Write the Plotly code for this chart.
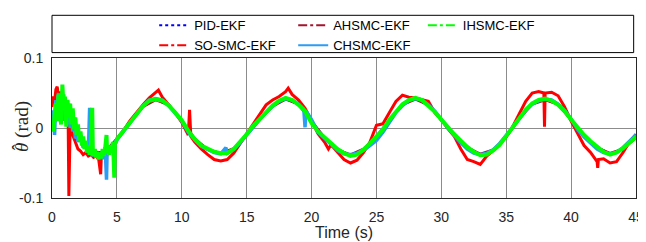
import plotly.graph_objects as go

# ---------------- data ----------------
t_ih = [0.0, 0.1, 0.2, 0.3, 0.4, 0.5, 0.6, 0.7, 0.8, 0.9, 1.0, 1.1, 1.2, 1.3, 1.4, 1.5,
        1.6, 1.7, 1.8, 1.9, 2.0, 2.1, 2.2, 2.3, 2.4, 2.5, 2.6, 2.7, 2.8, 2.9, 3.0, 3.1,
        3.15, 3.2, 3.3, 3.4, 3.5, 3.6, 3.7, 3.8, 3.9, 4.0, 4.1, 4.2, 4.25, 4.3, 4.4, 4.5,
        4.6, 4.7, 4.8, 4.85, 4.9,
        5.0, 5.5, 6.0, 6.5, 7.0, 7.5, 8.0, 8.5, 9.0, 9.5, 10.0, 10.5, 11.0, 11.5, 12.0,
        12.5, 13.0, 13.5, 14.0, 14.5, 15.0, 15.5, 16.0, 16.5, 17.0, 17.5, 18.0, 18.5,
        19.0, 19.5, 20.0, 20.5, 21.0, 21.5, 22.0, 22.5, 23.0, 23.5, 24.0, 24.5, 25.0,
        25.5, 26.0, 26.5, 27.0, 27.5, 28.0, 28.5, 29.0, 29.5, 30.0, 30.5, 31.0, 31.5,
        32.0, 32.5, 33.0, 33.5, 34.0, 34.5, 35.0, 35.5, 36.0, 36.5, 37.0, 37.5, 38.0,
        38.5, 39.0, 39.5, 40.0, 40.5, 41.0, 41.5, 42.0, 42.5, 43.0, 43.5, 44.0, 44.5, 45.0]
y_ih = [0.005, -0.005, 0.020, 0.035, 0.010, 0.048, 0.030, 0.005, 0.062, 0.025, 0.045, 0.002,
        0.040, 0.015, 0.035, 0.005, 0.028, -0.002, 0.015, -0.010, 0.005, -0.018, -0.005,
        -0.025, -0.012, -0.030, -0.018, -0.035, -0.025, -0.038, -0.028, 0.029, -0.035,
        -0.040, -0.030, -0.042, -0.034, -0.045, -0.035, -0.043, -0.030, -0.040, -0.028,
        -0.010, -0.036, -0.030, -0.038, -0.025, -0.030, -0.020, -0.071, -0.020, -0.022,
        -0.016, -0.004, 0.009, 0.021, 0.031, 0.039, 0.041, 0.039, 0.032, 0.022, 0.011,
        -0.004, -0.016, -0.025, -0.030, -0.034, -0.036, -0.036, -0.030, -0.020, -0.009,
        0.003, 0.013, 0.023, 0.032, 0.039, 0.043, 0.040, 0.033, 0.024, 0.007, -0.005,
        -0.013, -0.022, -0.030, -0.036, -0.040, -0.038, -0.031, -0.022, -0.012, -0.002,
        0.012, 0.024, 0.034, 0.040, 0.043, 0.040, 0.032, 0.023, 0.012, 0.001, -0.009,
        -0.018, -0.027, -0.034, -0.039, -0.038, -0.032, -0.024, -0.012, 0.000, 0.014,
        0.026, 0.035, 0.040, 0.042, 0.039, 0.033, 0.024, 0.012, 0.000, -0.010, -0.019,
        -0.027, -0.034, -0.038, -0.035, -0.029, -0.021, -0.013]

t_so = [0.0, 0.1, 0.2, 0.3, 0.4, 0.5, 0.6, 0.7, 0.8, 0.9, 1.0, 1.1, 1.2, 1.25, 1.3, 1.35,
        1.4, 1.5, 1.6, 1.7, 1.8, 1.9, 2.0, 2.2, 2.4, 2.6, 2.8, 3.0, 3.2, 3.4, 3.6, 3.75,
        3.8, 4.0, 4.2, 4.5, 4.8,
        5.0, 5.5, 6.0, 6.5, 7.0, 7.5, 8.0, 8.2, 8.5, 9.0, 9.5, 10.0, 10.5, 10.6, 10.7,
        11.0, 11.5, 12.0, 12.5, 13.0, 13.5, 14.0, 14.5, 15.0, 15.5, 16.0, 16.5, 17.0,
        17.5, 18.0, 18.2, 18.5, 19.0, 19.5, 20.0, 20.5, 21.0, 21.3, 21.5, 22.0, 22.5,
        23.0, 23.5, 24.0, 24.5, 25.0, 25.5, 26.0, 26.5, 27.0, 27.5, 28.0, 28.5, 29.0,
        29.5, 30.0, 30.5, 31.0, 31.5, 32.0, 32.5, 33.0, 33.5, 34.0, 34.5, 35.0, 35.5,
        36.0, 36.5, 37.0, 37.5, 37.9, 37.95, 38.0, 38.5, 39.0, 39.5, 40.0, 40.5, 41.0,
        41.5, 42.0, 42.05, 42.1, 42.5, 43.0, 43.5, 44.0, 44.5, 45.0]
y_so = [0.030, 0.045, 0.038, 0.055, 0.059, 0.045, 0.052, 0.040, 0.048, 0.030, 0.038, 0.015,
        0.020, 0.000, -0.097, 0.000, 0.005, -0.005, -0.010, -0.015, -0.020, -0.025, -0.030,
        -0.033, -0.038, -0.035, -0.040, -0.038, -0.042, -0.040, -0.045, -0.066, -0.040,
        -0.035, -0.034, -0.028, -0.022,
        -0.015, -0.004, 0.010, 0.022, 0.033, 0.043, 0.050, 0.054, 0.044, 0.033, 0.022,
        0.008, -0.010, 0.026, -0.012, -0.020, -0.030, -0.038, -0.045, -0.047, -0.045,
        -0.036, -0.022, -0.008, 0.006, 0.020, 0.033, 0.040, 0.045, 0.052, 0.057, 0.048,
        0.040, 0.028, 0.010, -0.008, -0.020, -0.030, -0.024, -0.034, -0.045, -0.050,
        -0.046, -0.035, -0.020, 0.004, 0.006, 0.022, 0.038, 0.047, 0.044, 0.043, 0.041,
        0.038, 0.022, 0.012, -0.001, -0.012, -0.030, -0.045, -0.048, -0.052, -0.040,
        -0.032, -0.024, -0.012, 0.002, 0.020, 0.038, 0.050, 0.052, 0.050, 0.002, 0.050,
        0.051, 0.046, 0.030, 0.010, -0.008, -0.025, -0.035, -0.048, -0.057, -0.045,
        -0.044, -0.050, -0.048, -0.035, -0.020, -0.009]

t_ch = [0.0, 0.1, 0.2, 0.3, 0.4, 0.5, 0.6, 0.7, 0.8, 0.9, 1.0, 1.1, 1.2, 1.3, 1.4, 1.5,
        1.6, 1.7, 1.8, 1.9, 2.0, 2.2, 2.4, 2.6, 2.8, 2.9, 2.95, 3.1, 3.3, 3.5, 3.7, 3.9,
        4.1, 4.2, 4.25, 4.4, 4.6, 4.8,
        5.0, 5.5, 6.0, 6.5, 7.0, 7.5, 8.0, 8.5, 9.0, 9.5, 10.0, 10.5, 11.0, 11.5, 12.0,
        12.5, 13.0, 13.4, 13.5, 14.0, 14.5, 15.0, 15.5, 16.0, 16.5, 17.0, 17.5, 18.0,
        18.5, 19.0, 19.4, 19.5, 19.55, 20.0, 20.5, 21.0, 21.5, 22.0, 22.5, 23.0, 23.5,
        24.0, 24.5, 25.0, 25.5, 26.0, 26.5, 27.0, 27.5, 28.0, 28.5, 29.0, 29.5, 30.0,
        30.5, 31.0, 31.5, 32.0, 32.5, 33.0, 33.5, 34.0, 34.5, 35.0, 35.5, 36.0, 36.5,
        37.0, 37.5, 38.0, 38.5, 39.0, 39.5, 40.0, 40.5, 41.0, 41.5, 42.0, 42.5, 43.0,
        43.5, 44.0, 44.5, 45.0]
y_ch = [0.010, 0.025, -0.010, 0.040, 0.030, 0.050, 0.020, 0.045, 0.010, 0.048, 0.020, 0.040,
        0.005, 0.035, 0.000, 0.025, -0.005, 0.015, -0.015, 0.000, -0.020, -0.010, -0.028,
        -0.020, -0.035, 0.029, -0.030, -0.040, -0.032, -0.042, -0.036, -0.044, -0.030,
        -0.074, -0.032, -0.030, -0.026, -0.022,
        -0.017, -0.006, 0.008, 0.020, 0.031, 0.040, 0.042, 0.040, 0.032, 0.021, 0.010,
        -0.006, -0.017, -0.026, -0.031, -0.035, -0.037, -0.028, -0.036, -0.031, -0.021,
        -0.010, 0.002, 0.012, 0.022, 0.031, 0.038, 0.042, 0.040, 0.034, 0.027, 0.001,
        0.025, 0.012, -0.006, -0.015, -0.024, -0.032, -0.037, -0.038, -0.036, -0.032,
        -0.025, -0.018, -0.006, 0.008, 0.022, 0.032, 0.039, 0.042, 0.040, 0.033, 0.024,
        0.012, 0.000, -0.011, -0.021, -0.030, -0.036, -0.038, -0.036, -0.031, -0.022,
        -0.011, 0.001, 0.013, 0.025, 0.034, 0.039, 0.041, 0.040, 0.034, 0.025, 0.013,
        -0.002, -0.013, -0.022, -0.030, -0.035, -0.037, -0.035, -0.028, -0.019, -0.010]

t_pid = [0, 1, 2, 3, 4, 5, 6, 7, 8, 9, 10, 11, 12, 13, 14, 15, 16, 17, 18, 19, 20, 21, 22,
         23, 24, 25, 26, 27, 28, 29, 30, 31, 32, 33, 34, 35, 36, 37, 38, 39, 40, 41, 42,
         43, 44, 45]
y_pid = [0.005, 0.035, -0.008, -0.035, -0.036, -0.015, 0.009, 0.031, 0.041, 0.032, 0.011,
         -0.016, -0.030, -0.036, -0.030, -0.009, 0.013, 0.032, 0.042, 0.033, 0.009, -0.013,
         -0.030, -0.039, -0.031, -0.012, 0.012, 0.034, 0.042, 0.032, 0.012, -0.009, -0.027,
         -0.038, -0.032, -0.012, 0.014, 0.035, 0.041, 0.033, 0.012, -0.010, -0.027, -0.037,
         -0.029, -0.013]

t_ah = [0, 1, 2, 3, 4, 5, 6, 7, 8, 9, 10, 11, 12, 13, 14, 15, 16, 17, 18, 19, 20, 21, 22,
        23, 24, 25, 26, 27, 28, 29, 30, 31, 32, 33, 34, 35, 36, 37, 38, 39, 40, 41, 42,
        43, 44, 45]
y_ah = [0.008, 0.030, -0.010, -0.034, -0.035, -0.016, 0.008, 0.030, 0.040, 0.033, 0.010,
        -0.015, -0.031, -0.036, -0.029, -0.010, 0.012, 0.031, 0.041, 0.034, 0.010, -0.014,
        -0.031, -0.038, -0.030, -0.013, 0.011, 0.033, 0.041, 0.033, 0.011, -0.010, -0.028,
        -0.037, -0.031, -0.013, 0.013, 0.034, 0.040, 0.034, 0.011, -0.011, -0.028, -0.036,
        -0.030, -0.014]

x_ticks = [0, 5, 10, 15, 20, 25, 30, 35, 40, 45]
y_ticks = [-0.1, 0, 0.1]
y_tick_text = ["-0.1", "0", "0.1"]

colors = {"PID-EKF": "#0000FF", "SO-SMC-EKF": "#FF0000", "AHSMC-EKF": "#A2142F",
          "CHSMC-EKF": "#2A9DF4", "IHSMC-EKF": "#00FF00"}

fig = go.Figure()

series = [("PID-EKF", t_pid, y_pid, 2), ("SO-SMC-EKF", t_so, y_so, 3),
          ("AHSMC-EKF", t_ah, y_ah, 2.5), ("CHSMC-EKF", t_ch, y_ch, 3.5),
          ("IHSMC-EKF", t_ih, y_ih, 4)]
for nm, tx, yy, w in series:
    fig.add_trace(go.Scatter(x=tx, y=yy, mode="lines", name=nm, showlegend=False,
                             line=dict(color=colors[nm], width=w), hoverinfo="skip"))

# legend entries: three columns, like the reference
leg = [("PID-EKF", "dot", "legend"), ("SO-SMC-EKF", "dashdot", "legend"),
       ("AHSMC-EKF", "dashdot", "legend2"), ("CHSMC-EKF", "solid", "legend2"),
       ("IHSMC-EKF", "dashdot", "legend3")]
for nm, d, lg in leg:
    fig.add_trace(go.Scatter(x=[None], y=[None], mode="lines", name=nm, legend=lg,
                             line=dict(color=colors[nm], width=2, dash=d)))

axis_font = dict(family="Liberation Sans, Arial, sans-serif", size=14, color="#262626")
leg_font = dict(family="Liberation Sans, Arial, sans-serif", size=13, color="#000000")
leg_common = dict(orientation="v", xanchor="left", yanchor="top", y=1.34,
                  font=leg_font, bgcolor="rgba(0,0,0,0)", borderwidth=0,
                  tracegroupgap=0, itemwidth=30)

# the page body adds an 8 px offset, so the figure is 8 px smaller each way
fig.update_layout(
    width=638, height=234,
    margin=dict(l=44, r=10, t=50, b=44, pad=0, autoexpand=False),
    paper_bgcolor="white", plot_bgcolor="white",
    showlegend=True,
    legend=dict(x=0.175, **leg_common),
    legend2=dict(x=0.413, **leg_common),
    legend3=dict(x=0.635, **leg_common),
    xaxis=dict(range=[0, 45], tickvals=x_ticks, showgrid=True, gridcolor="#8C8C8C",
               gridwidth=1, zeroline=False, showline=True, linecolor="#262626",
               linewidth=1, mirror=True, ticks="", tickfont=axis_font,
               ticklabelstandoff=6),
    yaxis=dict(range=[-0.1, 0.1], tickvals=y_ticks, ticktext=y_tick_text, showgrid=False,
               zeroline=True, zerolinecolor="#8C8C8C", zerolinewidth=1,
               showline=True, linecolor="#262626", linewidth=1, mirror=True, ticks="",
               tickfont=axis_font, ticklabelstandoff=5),
    shapes=[dict(type="rect", xref="paper", yref="paper", x0=0.0, x1=0.996,
                 y0=1.0386, y1=1.305, line=dict(color="#000000", width=1),
                 fillcolor="rgba(0,0,0,0)")],
    annotations=[
        dict(text="Time (s)", xref="paper", yref="paper", x=0.5, y=-0.245,
             xanchor="center", yanchor="middle", showarrow=False,
             font=dict(family="Liberation Sans, Arial, sans-serif", size=16, color="#262626")),
        dict(text="<i>θ</i> (rad)", xref="paper", yref="paper", x=-0.0514, y=0.514,
             xanchor="center", yanchor="middle", textangle=-90, showarrow=False,
             font=dict(family="Liberation Serif, Times New Roman, serif", size=19,
                       color="#262626")),
        dict(text="ˆ", xref="paper", yref="paper", x=-0.0574, y=0.366,
             xanchor="center", yanchor="middle", textangle=-90, showarrow=False,
             font=dict(family="Liberation Serif, Times New Roman, serif", size=18,
                       color="#262626")),
    ],
)

fig.write_html("out.html")
